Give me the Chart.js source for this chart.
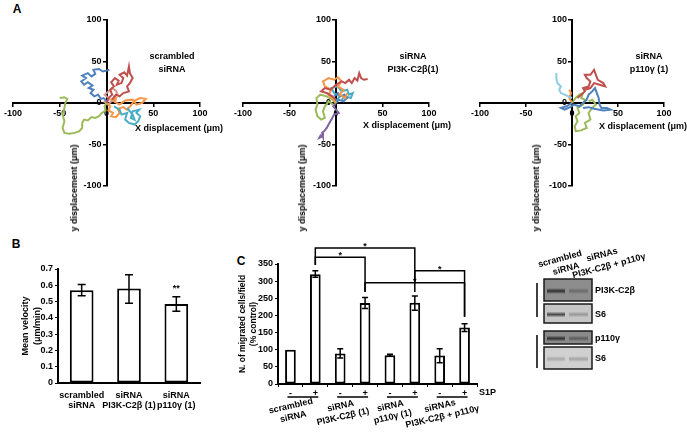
<!DOCTYPE html>
<html>
<head>
<meta charset="utf-8">
<script src="https://cdn.jsdelivr.net/npm/chart.js@4.4.1/dist/chart.umd.min.js"></script>
<style>
  body { margin: 0; background: #fff; }
  #page { position: relative; width: 687px; height: 436px; overflow: hidden;
          font-family: "Liberation Sans", Arial, sans-serif; font-weight: bold; color: #000; }
  canvas { position: absolute; }
  .t { position: absolute; font-size: 9px; line-height: 13px; white-space: nowrap; text-align: center;
       transform: translate(-50%, -50%); }
  .l { position: absolute; font-size: 9px; line-height: 12px; white-space: nowrap; }
  .yt { position: absolute; font-size: 9px; line-height: 12px; white-space: nowrap;
        transform: translate(-50%, -50%) rotate(-90deg); }
  .letter { position: absolute; font-size: 12px; transform: translate(-50%, -50%); }
</style>
</head>
<body>
<div id="page">
  <div class="letter" style="left:17px;top:9px">A</div>
  <div class="letter" style="left:16px;top:244px">B</div>
  <div class="letter" style="left:241px;top:261px">C</div>

  <canvas id="a1" width="228" height="200" style="left:0;top:0"></canvas>
  <canvas id="a2" width="228" height="200" style="left:230px;top:0"></canvas>
  <canvas id="a3" width="229" height="200" style="left:458px;top:0"></canvas>
  <canvas id="chartB" width="215" height="181" style="left:0;top:255px"></canvas>
  <canvas id="chartC" width="260" height="200" style="left:232px;top:236px"></canvas>
  <canvas id="blot" width="157" height="140" style="left:530px;top:240px"></canvas>

  <div class="t" style="left:172px;top:63px">scrambled<br>siRNA</div>
  <div class="t" style="left:413px;top:63px">siRNA<br>PI3K-C2β(1)</div>
  <div class="t" style="left:649px;top:63px">siRNA<br>p110γ (1)</div>

  <div class="l" style="left:135px;top:122px">X displacement (μm)</div>
  <div class="l" style="left:363px;top:119px">X displacement (μm)</div>
  <div class="l" style="left:599px;top:120px">X displacement (μm)</div>
  <div class="yt" style="left:74px;top:188px">y displacement (μm)</div>
  <div class="yt" style="left:302px;top:188px">y displacement (μm)</div>
  <div class="yt" style="left:536px;top:188px">y displacement (μm)</div>

  <div class="l" style="left:479px;top:386px">S1P</div>
</div>

<script>
// ---------------- Data: panel A (cell tracks, µm) ----------------
const TRACK_COLORS = {
  blue: "#4F81BD", red: "#C0504D", green: "#9BBB59", purple: "#8064A2",
  aqua: "#4BACC6", orange: "#F79646", pink: "#D99694", sky: "#8FCCE2"
};

const scrBlue   = [[0,2],[-3,6],[-6,5],[-9,10],[-13,8],[-17,12],[-14,16],[-19,18],[-15,21],[-20,25],[-24,22],[-27,26],[-22,30],[-26,33],[-20,36],[-16,32],[-12,35],[-14,40],[-8,41],[-4,38],[0,39],[3,40]];
const scrRed    = [[0,0],[2,6],[6,10],[4,16],[8,20],[5,25],[9,30],[13,27],[11,22],[16,24],[18,30],[14,34],[19,37],[22,33],[24,44],[25,36],[28,30],[25,24],[22,20],[24,14],[18,12],[14,8],[10,10],[6,4]];
const scrGreen  = [[0,0],[-2,-4],[-1,-9],[-5,-12],[-8,-16],[-12,-18],[-16,-17],[-20,-21],[-24,-20],[-26,-24],[-26,-30],[-29,-34],[-34,-36],[-40,-37],[-45,-36],[-47,-30],[-45,-22],[-47,-14],[-45,-6],[-44,0],[-42,5],[-45,7],[-50,6]];
const scrAqua   = [[8,-4],[14,-8],[16,-14],[22,-12],[20,-20],[24,-24],[30,-26],[34,-22],[36,-16],[32,-12],[35,-8],[28,-10],[26,-18],[30,-20],[28,-14],[22,-6]];
const scrOrange = [[0,0],[4,-4],[2,-9],[7,-12],[5,-16],[10,-17],[14,-12],[12,-7],[18,-5],[22,-8],[26,-3],[30,3],[36,6],[42,5],[38,0],[32,-2],[28,4],[20,3],[14,-2],[8,2],[10,6],[4,4]];
const scrPink   = [[0,0],[3,5],[-2,10],[2,14],[6,18],[10,15],[12,10],[8,8],[10,4],[5,2],[2,-2],[-3,2]];

const c2bRed    = [[0,4],[-4,8],[-10,12],[-16,14],[-12,18],[-6,16],[0,22],[6,26],[10,24],[14,28],[17,24],[20,30],[23,27],[25,36],[27,30],[30,28],[34,29]];
const c2bOrange = [[0,0],[-4,6],[-8,10],[-5,16],[-12,20],[-14,26],[-8,30],[-2,28],[2,31],[6,26],[2,20],[8,16],[4,10],[10,6],[12,12]];
const c2bAqua   = [[0,2],[4,8],[-2,12],[-5,18],[2,20],[6,14],[12,16],[14,10],[18,12],[16,6],[10,8],[6,4]];
const c2bBlue   = [[0,0],[3,4],[8,2],[12,6],[9,10],[5,8],[2,12],[-2,8]];
const c2bGreen  = [[0,0],[-4,4],[-10,8],[-17,10],[-21,6],[-20,-2],[-22,-8],[-20,-16],[-16,-20],[-12,-18],[-14,-10],[-12,-4],[-8,2],[-3,-2]];
const c2bPurple = [[0,0],[-3,-4],[0,-8],[3,-12],[-2,-14],[-4,-18],[-6,-22],[-8,-26],[-10,-30],[-12,-33],[-15,-36],[-14,-40],[-18,-42],[-16,-38]];

const gamSky    = [[0,6],[-4,8],[-8,10],[-12,12],[-14,16],[-12,20],[-16,24],[-17,30],[-17,36]];
const gamBlue   = [[0,0],[-6,-4],[-12,-6],[-8,-8],[-2,-5],[2,-2],[8,-4],[12,0],[16,4],[18,10],[22,14],[25,18],[27,12],[29,6],[30,-2],[32,-6],[38,-6],[42,-8],[34,-9],[24,-7],[18,-5],[12,-6]];
const gamRed    = [[6,6],[10,10],[14,14],[12,18],[18,20],[20,26],[16,30],[14,34],[20,34],[24,40],[26,34],[28,28],[34,24],[36,20],[30,22],[24,24],[20,18],[14,16]];
const gamGreen  = [[0,0],[4,6],[8,10],[12,12],[10,6],[14,4],[12,-2],[6,-6],[8,-12],[4,-16],[6,-22],[3,-28],[4,-34],[10,-33],[16,-30],[14,-24],[20,-20],[18,-12],[22,-6],[26,-2],[22,4],[18,2]];
const gamOrange = [[0,0],[-3,6],[-1,12],[-3,16]];

const axisTicksA = [-100, -50, 0, 50, 100];

// ---------------- Data: panel B ----------------
const bLabels = [["scrambled", "siRNA"], ["siRNA", "PI3K-C2β (1)"], ["siRNA", "p110γ (1)"]];
const bMean   = [0.57, 0.58, 0.485];
const bErrLo  = [0.535, 0.49, 0.44];
const bErrHi  = [0.605, 0.665, 0.53];
const bStars  = ["", "", "**"];

// ---------------- Data: panel C ----------------
const cTicks  = ["-", "+", "-", "+", "-", "+", "-", "+"];
const cMean   = [100, 320, 89, 236, 84, 237, 83, 165];
const cErrLo  = [100, 311, 76, 220, 81, 215, 62, 153];
const cErrHi  = [100, 330, 103, 252, 87, 257, 103, 176];
const cGroups = [["scrambled", "siRNA"], ["siRNA", "PI3K-C2β (1)"], ["siRNA", "p110γ (1)"], ["siRNAs", "PI3K-C2β + p110γ"]];
// significance brackets: bars a..b, bar-top level, leg ends (values)
const cBrackets = [
  { a: 1, b: 5, top: 397, endA: 347, endB: 268 },
  { a: 1, b: 3, top: 370, endA: 347, endB: 268 },
  { a: 3, b: 7, top: 295, endA: 269, endB: 196 },
  { a: 5, b: 7, top: 330, endA: 295, endB: 196 }
];

// ---------------- Helpers ----------------
const FONT = "'Liberation Sans', Arial, sans-serif";
Chart.defaults.font.family = FONT;
Chart.defaults.color = "#000";

function toPts(arr) {
  return arr.map(p => ({ x: p[0], y: p[1] }));
}

function trackChart(id, tracks, pad) {
  new Chart(document.getElementById(id), {
    type: "scatter",
    data: {
      datasets: tracks.map(t => ({
        data: toPts(t.pts),
        showLine: true,
        borderColor: TRACK_COLORS[t.c],
        borderWidth: 2,
        pointRadius: 0,
        tension: 0
      }))
    },
    options: {
      responsive: false,
      animation: false,
      layout: { padding: pad },
      plugins: { legend: { display: false }, tooltip: { enabled: false } },
      scales: {
        x: {
          type: "linear", min: -100, max: 100, position: { y: 0 },
          afterBuildTicks: s => { s.ticks = axisTicksA.map(v => ({ value: v })); },
          ticks: { font: { size: 9, weight: "bold" }, maxRotation: 0, padding: 2 },
          grid: { drawOnChartArea: false, color: "#000", tickLength: 3, lineWidth: 1.5 },
          border: { color: "#000", width: 2 }
        },
        y: {
          type: "linear", min: -100, max: 100, position: { x: 0 },
          afterBuildTicks: s => { s.ticks = axisTicksA.map(v => ({ value: v })); },
          // centred axes get no label padding in Chart.js, so pad the text itself
          ticks: { font: { size: 9, weight: "bold" }, callback: v => v + "  " },
          grid: { drawOnChartArea: false, color: "#000", tickLength: 3, lineWidth: 1.5 },
          border: { color: "#000", width: 2 }
        }
      }
    }
  });
}

// error bars + stars over bars
const errorBars = {
  id: "errorBars",
  afterDatasetsDraw(chart, args, o) {
    const { ctx, scales: { y } } = chart;
    const meta = chart.getDatasetMeta(0);
    ctx.save();
    ctx.strokeStyle = "#000";
    ctx.lineWidth = o.width;
    o.lo.forEach((lo, i) => {
      const hi = o.hi[i];
      if (hi === lo) return;
      const px = meta.data[i].x;
      const y1 = y.getPixelForValue(lo), y2 = y.getPixelForValue(hi);
      ctx.beginPath();
      ctx.moveTo(px, y1); ctx.lineTo(px, y2);
      ctx.moveTo(px - o.cap, y1); ctx.lineTo(px + o.cap, y1);
      ctx.moveTo(px - o.cap, y2); ctx.lineTo(px + o.cap, y2);
      ctx.stroke();
    });
    if (o.stars) {
      ctx.fillStyle = "#000";
      ctx.font = "bold 9px " + FONT;
      ctx.textAlign = "center";
      ctx.textBaseline = "bottom";
      o.stars.forEach((s, i) => {
        if (!s) return;
        ctx.fillText(s, meta.data[i].x, y.getPixelForValue(o.hi[i]) - 4);
      });
    }
    ctx.restore();
  }
};

// brackets, group underlines and group labels for panel C
const cExtras = {
  id: "cExtras",
  afterDraw(chart) {
    const { ctx, scales: { x, y }, chartArea } = chart;
    ctx.save();
    ctx.strokeStyle = "#000";
    ctx.fillStyle = "#000";
    ctx.lineWidth = 1.5;
    ctx.font = "bold 9px " + FONT;
    ctx.textAlign = "center";
    cBrackets.forEach(b => {
      const xa = x.getPixelForValue(b.a), xb = x.getPixelForValue(b.b);
      const yt = y.getPixelForValue(b.top);
      ctx.beginPath();
      ctx.moveTo(xa, y.getPixelForValue(b.endA));
      ctx.lineTo(xa, yt);
      ctx.lineTo(xb, yt);
      ctx.lineTo(xb, y.getPixelForValue(b.endB));
      ctx.stroke();
      ctx.textBaseline = "bottom";
      ctx.fillText("*", (xa + xb) / 2, yt + 3);
    });
    cGroups.forEach((g, k) => {
      const x0 = x.getPixelForValue(2 * k), x1 = x.getPixelForValue(2 * k + 1);
      const ly = chartArea.bottom + 13;
      ctx.lineWidth = 1.5;
      ctx.beginPath();
      ctx.moveTo(x0 - 3, ly); ctx.lineTo(x1 + 3, ly);
      ctx.stroke();
      ctx.save();
      ctx.translate((x0 + x1) / 2 - 11, chartArea.bottom + 27);
      ctx.rotate(-13 * Math.PI / 180);
      ctx.textBaseline = "middle";
      ctx.fillText(g[0], 0, -5);
      ctx.fillText(g[1], 0, 6);
      ctx.restore();
    });
    ctx.restore();
  }
};

// ---------------- Panel A ----------------
trackChart("a1", [
  { c: "green", pts: scrGreen }, { c: "blue", pts: scrBlue }, { c: "red", pts: scrRed },
  { c: "aqua", pts: scrAqua }, { c: "orange", pts: scrOrange }, { c: "pink", pts: scrPink }
], { left: 13, right: 28, top: 20, bottom: 14 });

trackChart("a2", [
  { c: "red", pts: c2bRed }, { c: "orange", pts: c2bOrange }, { c: "blue", pts: c2bBlue },
  { c: "aqua", pts: c2bAqua }, { c: "green", pts: c2bGreen }, { c: "purple", pts: c2bPurple }
], { left: 13, right: 29, top: 20, bottom: 14 });

trackChart("a3", [
  { c: "sky", pts: gamSky }, { c: "red", pts: gamRed }, { c: "blue", pts: gamBlue },
  { c: "orange", pts: gamOrange }, { c: "green", pts: gamGreen }
], { left: 22, right: 23, top: 20, bottom: 14 });

// ---------------- Panel B ----------------
new Chart(document.getElementById("chartB"), {
  type: "bar",
  data: {
    labels: bLabels,
    datasets: [{
      data: bMean, backgroundColor: "#fff", borderColor: "#000", borderWidth: 2,
      borderSkipped: false, barPercentage: 0.5, categoryPercentage: 1
    }]
  },
  options: {
    responsive: false,
    animation: false,
    layout: { padding: { top: 14, right: 15, left: 0, bottom: 0 } },
    plugins: {
      legend: { display: false }, tooltip: { enabled: false },
      errorBars: { lo: bErrLo, hi: bErrHi, cap: 4, width: 1.5, stars: bStars }
    },
    scales: {
      x: {
        afterFit: s => { s.height = 53; },
        ticks: { font: { size: 9, weight: "bold", lineHeight: 1.1 }, padding: 0, maxRotation: 0, autoSkip: false },
        grid: { display: false },
        border: { color: "#000", width: 2 }
      },
      y: {
        min: 0, max: 0.7,
        afterFit: s => { s.width = 58; },
        ticks: { stepSize: 0.1, font: { size: 9, weight: "bold" }, padding: 2 },
        grid: { drawOnChartArea: false, color: "#000", tickLength: 3 },
        border: { color: "#000", width: 2 },
        title: { display: true, text: ["Mean velocity", "(μm/min)"], font: { size: 9, weight: "bold", lineHeight: 1.3 },
                 padding: { top: 20, bottom: 0 } }
      }
    }
  },
  plugins: [errorBars]
});

// ---------------- Panel C ----------------
new Chart(document.getElementById("chartC"), {
  type: "bar",
  data: {
    labels: cTicks,
    datasets: [{
      data: cMean, backgroundColor: "#fff", borderColor: "#000", borderWidth: 2,
      borderSkipped: false, barPercentage: 0.43, categoryPercentage: 1
    }]
  },
  options: {
    responsive: false,
    animation: false,
    layout: { padding: { top: 28, right: 15, left: 0, bottom: 0 } },
    plugins: {
      legend: { display: false }, tooltip: { enabled: false },
      errorBars: { lo: cErrLo, hi: cErrHi, cap: 3, width: 1.5 }
    },
    scales: {
      x: {
        afterFit: s => { s.height = 52; },
        ticks: { font: { size: 9, weight: "bold" }, padding: 1, maxRotation: 0, autoSkip: false },
        grid: { drawOnChartArea: false, color: "#000", tickLength: 3, offset: true },
        border: { color: "#000", width: 2 }
      },
      y: {
        min: 0, max: 350,
        afterFit: s => { s.width = 46; },
        ticks: { stepSize: 50, font: { size: 9, weight: "bold" }, padding: 2 },
        grid: { drawOnChartArea: false, color: "#000", tickLength: 3 },
        border: { color: "#000", width: 2 },
        title: { display: true, text: ["N. of migrated cells/field", "(% control)"], font: { size: 8.5, weight: "bold", lineHeight: 1.3 },
                 padding: { top: 5, bottom: 0 } }
      }
    }
  },
  plugins: [errorBars, cExtras]
});

// ---------------- Western blot ----------------
(function drawBlot() {
  const cv = document.getElementById("blot");
  const ctx = cv.getContext("2d");
  const ox = 530, oy = 240;           // canvas offset on the page
  const boxes = [
    { y: 279, h: 22, bg: "#8d8d8d", b1: "#2e2e2e", b2: "#6a6a6a", label: "PI3K-C2β" },
    { y: 304, h: 19, bg: "#c6c6c6", b1: "#4a4a4a", b2: "#999", label: "S6" },
    { y: 331, h: 13, bg: "#8a8a8a", b1: "#333", b2: "#5e5e5e", label: "p110γ" },
    { y: 347, h: 22, bg: "#d0d0d0", b1: "#a9a9a9", b2: "#a4a4a4", label: "S6" }
  ];
  ctx.translate(-ox, -oy);
  boxes.forEach(bx => {
    ctx.fillStyle = bx.bg;
    ctx.fillRect(544, bx.y, 48, bx.h);
    const cy = bx.y + bx.h / 2 + 1;
    const g1 = ctx.createLinearGradient(0, cy - 3, 0, cy + 3);
    g1.addColorStop(0, bx.bg); g1.addColorStop(0.5, bx.b1); g1.addColorStop(1, bx.bg);
    ctx.fillStyle = g1;
    ctx.fillRect(547, cy - 3, 18, 6);
    const g2 = ctx.createLinearGradient(0, cy - 3, 0, cy + 3);
    g2.addColorStop(0, bx.bg); g2.addColorStop(0.5, bx.b2); g2.addColorStop(1, bx.bg);
    ctx.fillStyle = g2;
    ctx.fillRect(569, cy - 3, 19, 6);
    ctx.strokeStyle = "#1a1a1a";
    ctx.lineWidth = 1.5;
    ctx.strokeRect(544, bx.y, 48, bx.h);
    ctx.fillStyle = "#000";
    ctx.font = "bold 9px " + FONT;
    ctx.textBaseline = "middle";
    ctx.textAlign = "left";
    ctx.fillText(bx.label, 595, bx.y + bx.h / 2 + 1);
  });
  ctx.strokeStyle = "#000";
  ctx.lineWidth = 1.5;
  ctx.beginPath();
  ctx.moveTo(537, 283); ctx.lineTo(537, 317);
  ctx.moveTo(537, 335); ctx.lineTo(537, 368);
  ctx.stroke();
  ctx.font = "bold 9px " + FONT;
  ctx.textAlign = "center";
  [[560, 259, "scrambled"], [566, 269, "siRNA"], [602, 255, "siRNAs"], [609, 266, "PI3K-C2β + p110γ"]]
    .forEach(([x, y, s]) => {
      ctx.save();
      ctx.translate(x, y);
      ctx.rotate(-15 * Math.PI / 180);
      ctx.fillText(s, 0, 0);
      ctx.restore();
    });
})();
</script>
</body>
</html>
